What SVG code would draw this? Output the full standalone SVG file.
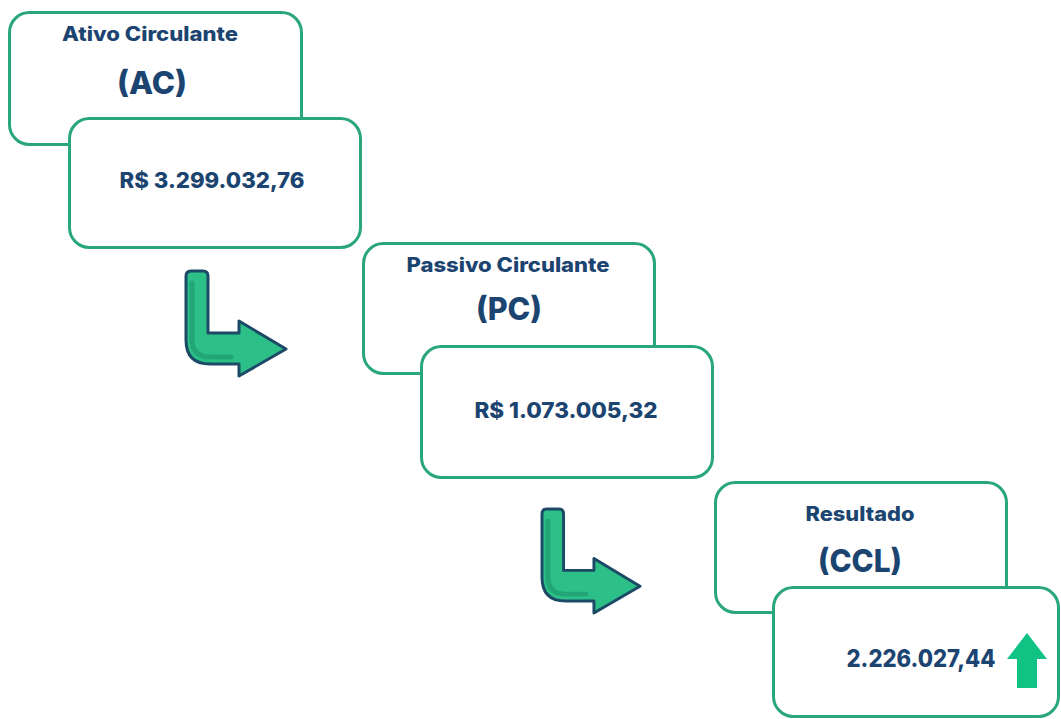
<svg xmlns="http://www.w3.org/2000/svg" width="1061" height="719" viewBox="0 0 1061 719">
<style>
.box{fill:#ffffff;stroke:#2aa67e;stroke-width:3}
.t{font-family:Inter,"Liberation Sans",sans-serif;font-weight:800;fill:#1b4470;text-anchor:middle}
.h{font-size:20px}
.ab{font-size:31px}
.v{font-size:22px}
.bent{fill:#2cbf88;stroke:#1c4a66;stroke-width:3;stroke-linejoin:round}
.shade{fill:none;stroke:#22a677;stroke-width:5;stroke-linecap:round}
</style>
<defs>
<g id="bentArrow">
<path class="bent" d="M0,5 Q0,0 5,0 L17,0 Q22,0 22,5 L22,62 L53,62 L53,50 L100,78 L53,105 L53,93 L24,93 Q0,93 0,69 Z"/>
<path class="shade" d="M6,12 L6,68 Q6,86 24,86 L45,86"/>
</g>
</defs>
<rect width="1061" height="719" fill="#ffffff"/>
<g id="connectors">
<use href="#bentArrow" transform="translate(186,271)"/>
<use href="#bentArrow" transform="translate(542,509) scale(0.98,0.99)"/>
</g>
<g id="ac">
<rect class="box" x="9.5" y="12.5" width="292" height="132" rx="20"/>
<text class="t h" x="150" y="41" textLength="176" lengthAdjust="spacingAndGlyphs">Ativo Circulante</text>
<text class="t ab" x="152" y="94" textLength="70" lengthAdjust="spacingAndGlyphs">(AC)</text>
</g>
<g id="ac-value">
<rect class="box" x="69.5" y="118.5" width="291" height="129" rx="20"/>
<text class="t v" x="212" y="188" textLength="185" lengthAdjust="spacingAndGlyphs">R$ 3.299.032,76</text>
</g>
<g id="pc">
<rect class="box" x="363.5" y="243.5" width="291" height="130" rx="20"/>
<text class="t h" x="508" y="272" textLength="203" lengthAdjust="spacingAndGlyphs">Passivo Circulante</text>
<text class="t ab" x="509" y="320" textLength="66" lengthAdjust="spacingAndGlyphs">(PC)</text>
</g>
<g id="pc-value">
<rect class="box" x="421.5" y="346.5" width="291" height="131" rx="20"/>
<text class="t v" x="566" y="418" textLength="183" lengthAdjust="spacingAndGlyphs">R$ 1.073.005,32</text>
</g>
<g id="ccl">
<rect class="box" x="715.5" y="482.5" width="291" height="130" rx="20"/>
<text class="t h" x="860" y="521" textLength="109" lengthAdjust="spacingAndGlyphs">Resultado</text>
<text class="t ab" x="860" y="572" textLength="84" lengthAdjust="spacingAndGlyphs">(CCL)</text>
</g>
<g id="ccl-value">
<rect class="box" x="773.5" y="587.5" width="285" height="129" rx="20"/>
<text class="t v" x="921" y="667" style="font-size:24px" textLength="149" lengthAdjust="spacingAndGlyphs">2.226.027,44</text>
<path d="M1027,633 L1047,659 L1037,659 L1037,688 L1017,688 L1017,659 L1007,659 Z" fill="#10c283"/>
</g>
</svg>
